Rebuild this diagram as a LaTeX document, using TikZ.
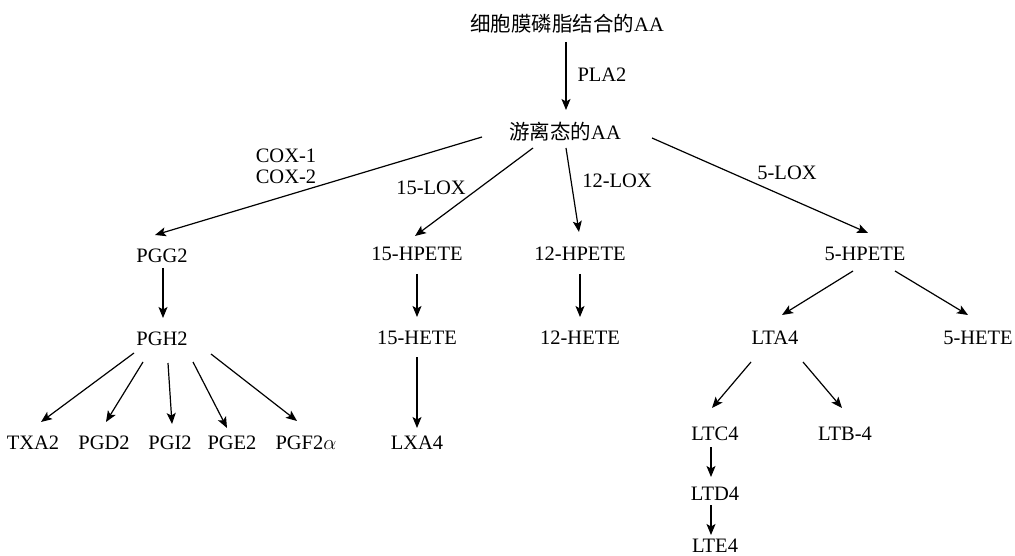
\documentclass[tikz,border=0pt]{standalone}
\usepackage{fontspec}
\setmainfont{Liberation Serif}
\newfontfamily\cjk{Noto Sans CJK SC}
\usetikzlibrary{arrows.meta}
\begin{document}
\begin{tikzpicture}[x=1pt,y=-1pt,
  lbl/.style={font=\fontsize{20.5}{22}\selectfont, inner sep=0pt, text height=14pt, text depth=0pt},
  arr/.style={line width=1.2pt, -{Stealth[length=11pt,width=9pt,inset=2.5pt]}}]
\useasboundingbox (0,0) rectangle (1015,556);
% nodes
\node[lbl] (mem) at (567,25) {{\cjk 细胞膜磷脂结合的}AA};
\node[lbl] (free) at (565,133) {{\cjk 游离态的}AA};
\node[lbl] (pla) at (602,75) {PLA2};
\node[lbl] (cox1) at (286,156) {COX-1};
\node[lbl] (cox2) at (286,177) {COX-2};
\node[lbl] (lox15) at (431,188) {15-LOX};
\node[lbl] (lox12) at (617,181) {12-LOX};
\node[lbl] (lox5) at (787,173) {5-LOX};
\node[lbl] (pgg2) at (162,255) {PGG2};
\node[lbl] (hpete15) at (417,254) {15-HPETE};
\node[lbl] (hpete12) at (580,254) {12-HPETE};
\node[lbl] (hpete5) at (865,254) {5-HPETE};
\node[lbl] (pgh2) at (162,338) {PGH2};
\node[lbl] (hete15) at (417,337) {15-HETE};
\node[lbl] (hete12) at (580,337) {12-HETE};
\node[lbl] (lta4) at (775,337) {LTA4};
\node[lbl] (hete5) at (978,337) {5-HETE};
\node[lbl] (txa2) at (33,442) {TXA2};
\node[lbl] (pgd2) at (104,442) {PGD2};
\node[lbl] (pgi2) at (170,442) {PGI2};
\node[lbl] (pge2) at (232,442) {PGE2};
\node[lbl] (pgf2) at (306,442) {PGF2$\alpha$};
\node[lbl] (lxa4) at (417,442) {LXA4};
\node[lbl] (ltc4) at (715,433) {LTC4};
\node[lbl] (ltb4) at (845,433) {LTB-4};
\node[lbl] (ltd4) at (715,493) {LTD4};
\node[lbl] (lte4) at (715,545) {LTE4};
% arrows
\draw[arr] ([shift={(-1,17)}]mem.center) -- ([shift={(1,-23)}]free.center);
\draw[arr] ([shift={(-83,4)}]free.center) -- ([shift={(-7,-20)}]pgg2.center);
\draw[arr] ([shift={(-32,15)}]free.center) -- ([shift={(-2,-18)}]hpete15.center);
\draw[arr] ([shift={(1,15)}]free.center) -- ([shift={(-1,-22)}]hpete12.center);
\draw[arr] ([shift={(87,5)}]free.center) -- ([shift={(3,-21)}]hpete5.center);
\draw[arr] ([shift={(1,13)}]pgg2.center) -- ([shift={(1,-20)}]pgh2.center);
\draw[arr] ([shift={(0,20)}]hpete15.center) -- ([shift={(0,-20)}]hete15.center);
\draw[arr] ([shift={(0,20)}]hpete12.center) -- ([shift={(0,-20)}]hete12.center);
\draw[arr] ([shift={(0,20)}]hete15.center) -- ([shift={(0,-14)}]lxa4.center);
\draw[arr] ([shift={(-28,15)}]pgh2.center) -- ([shift={(8,-20)}]txa2.center);
\draw[arr] ([shift={(-19,24)}]pgh2.center) -- ([shift={(2,-20)}]pgd2.center);
\draw[arr] ([shift={(6,25)}]pgh2.center) -- ([shift={(2,-18)}]pgi2.center);
\draw[arr] ([shift={(31,24)}]pgh2.center) -- ([shift={(-5,-14)}]pge2.center);
\draw[arr] ([shift={(49,16)}]pgh2.center) -- ([shift={(-9,-21)}]pgf2.center);
\draw[arr] ([shift={(-12,17)}]hpete5.center) -- ([shift={(7,-22)}]lta4.center);
\draw[arr] ([shift={(30,17)}]hpete5.center) -- ([shift={(-10,-22)}]hete5.center);
\draw[arr] ([shift={(-24,25)}]lta4.center) -- ([shift={(-3,-25)}]ltc4.center);
\draw[arr] ([shift={(28,25)}]lta4.center) -- ([shift={(-3,-25)}]ltb4.center);
\draw[arr] ([shift={(-4,14)}]ltc4.center) -- ([shift={(-4,-16)}]ltd4.center);
\draw[arr] ([shift={(-4,12)}]ltd4.center) -- ([shift={(-4,-10)}]lte4.center);
\end{tikzpicture}
\end{document}
